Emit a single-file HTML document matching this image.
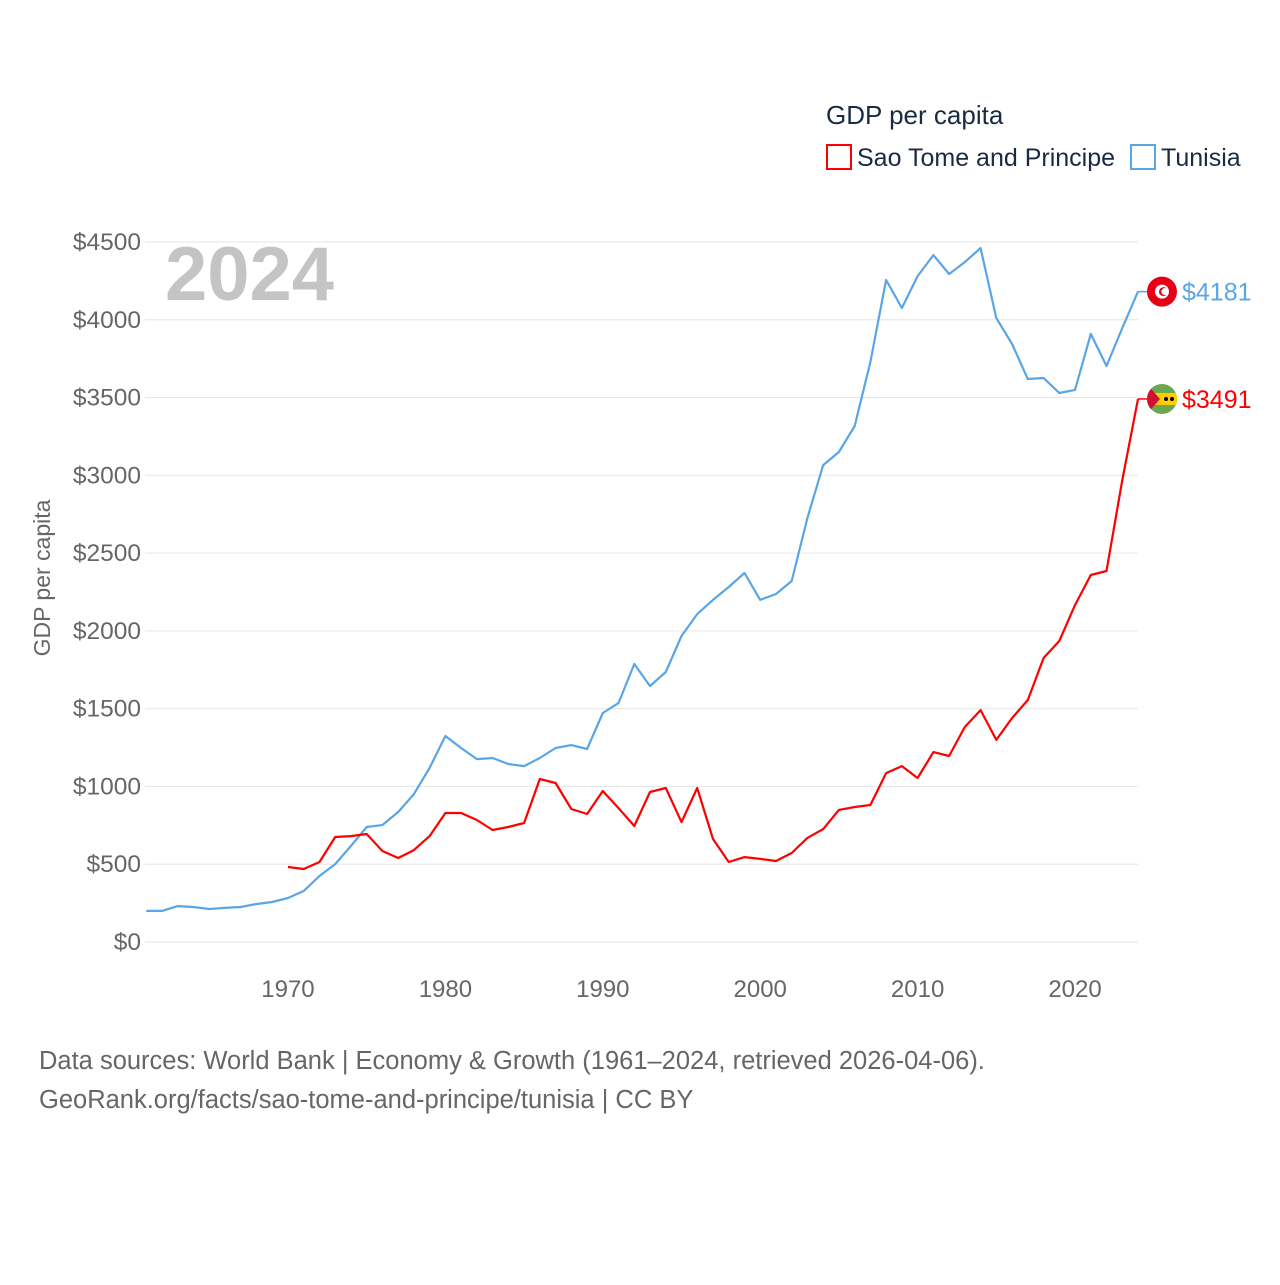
<!DOCTYPE html>
<html><head><meta charset="utf-8">
<style>
body{margin:0;background:#fff;font-family:"Liberation Sans",sans-serif;}
svg text{font-family:"Liberation Sans",sans-serif;}
</style></head>
<body>
<svg id="chart" width="1280" height="1280" viewBox="0 0 1280 1280" xmlns="http://www.w3.org/2000/svg">
<rect width="1280" height="1280" fill="#fff"/>
<g id="grid"></g>
<g id="yticks"></g>
<g id="xticks"></g>
<text x="165" y="300" font-size="76" font-weight="bold" fill="#c4c4c4">2024</text>
<text transform="translate(50,578) rotate(-90)" text-anchor="middle" font-size="23" fill="#666">GDP per capita</text>
<g id="series"></g>
<g>
<text x="826" y="124" font-size="26" fill="#1a2a44">GDP per capita</text>
<rect x="827" y="145" width="24" height="24" fill="none" stroke="#ff0000" stroke-width="2"/>
<text x="857" y="166" font-size="25" fill="#1a2a44">Sao Tome and Principe</text>
<rect x="1131" y="145" width="24" height="24" fill="none" stroke="#5aa5e6" stroke-width="2"/>
<text x="1161" y="166" font-size="25" fill="#1a2a44">Tunisia</text>
</g>
<text x="39" y="1069" font-size="25.5" fill="#666">Data sources: World Bank | Economy &amp; Growth (1961–2024, retrieved 2026-04-06).</text>
<text x="39" y="1108" font-size="25.5" fill="#666">GeoRank.org/facts/sao-tome-and-principe/tunisia | CC BY</text>
</svg>
<script>
const tunYears=[1961,1962,1963,1964,1965,1966,1967,1968,1969,1970,1971,1972,1973,1974,1975,1976,1977,1978,1979,1980,1981,1982,1983,1984,1985,1986,1987,1988,1989,1990,1991,1992,1993,1994,1995,1996,1997,1998,1999,2000,2001,2002,2003,2004,2005,2006,2007,2008,2009,2010,2011,2012,2013,2014,2015,2016,2017,2018,2019,2020,2021,2022,2023,2024];
const tunValues=[200,200,231,225,212,219,225,244,257,283,328,424,501,617,739,752,836,951,1119,1324,1247,1176,1183,1144,1131,1183,1247,1266,1241,1472,1536,1787,1646,1736,1967,2108,2199,2282,2372,2199,2237,2321,2726,3066,3150,3317,3729,4256,4076,4281,4416,4294,4371,4461,4011,3844,3619,3626,3529,3549,3909,3703,3947,4181];
const stpYears=[1970,1971,1972,1973,1974,1975,1976,1977,1978,1979,1980,1981,1982,1983,1984,1985,1986,1987,1988,1989,1990,1991,1992,1993,1994,1995,1996,1997,1998,1999,2000,2001,2002,2003,2004,2005,2006,2007,2008,2009,2010,2011,2012,2013,2014,2015,2016,2017,2018,2019,2020,2021,2022,2023,2024];
const stpValues=[482,469,514,675,681,694,585,540,591,681,829,829,784,720,739,765,1048,1022,855,823,971,861,746,964,990,771,990,662,514,546,534,521,572,669,726,849,868,881,1086,1131,1054,1221,1196,1382,1491,1299,1440,1556,1826,1935,2166,2359,2385,2970,3491];
const yTicks=[0,500,1000,1500,2000,2500,3000,3500,4000,4500];
const xTicks=[1970,1980,1990,2000,2010,2020];

const NS="http://www.w3.org/2000/svg";
const X0=146.3,X1=1138,Y0=942,Y1=242;
const x=yr=>X0+(yr-1961)*(X1-X0)/(2024-1961);
const y=v=>Y0-v*(Y0-Y1)/4500;
function mk(tag,attrs,parent){const e=document.createElementNS(NS,tag);for(const k in attrs)e.setAttribute(k,attrs[k]);parent.appendChild(e);return e;}
const grid=document.getElementById('grid'),yt=document.getElementById('yticks'),xt=document.getElementById('xticks'),ser=document.getElementById('series');
yTicks.forEach(v=>{
  const l=mk('line',{x1:145,x2:1138,y1:y(v),y2:y(v),stroke:'#e6e6e6','stroke-width':1},grid);
  
  
  const t=mk('text',{x:141,y:y(v)+8,'text-anchor':'end','font-size':24.5,fill:'#666'},yt);
  
  
  t.textContent='$'+v;
});
xTicks.forEach(yr=>{
  const t=mk('text',{x:x(yr),y:997,'text-anchor':'middle','font-size':24,fill:'#666'},xt);
  
  
  t.textContent=yr;
});
function line(years,vals,color,name){
  const d=years.map((yr,i)=>(i?'L':'M')+x(yr).toFixed(1)+','+y(vals[i]).toFixed(1)).join('');
  const p=mk('path',{d:d,fill:'none',stroke:color,'stroke-width':2.2,'stroke-linejoin':'round'},ser);
  
  
  const last=vals[vals.length-1],ly=y(last),lx=x(years[years.length-1]);
  const c=mk('line',{x1:lx,x2:1150,y1:ly,y2:ly,stroke:color,'stroke-width':1.5},ser);
  
  
  const t=mk('text',{x:1182,y:ly+9,'font-size':25,fill:color},ser);
  
  
  t.textContent='$'+last;
  return ly;
}
const ty=line(tunYears,tunValues,'#5aa5e6','tunisia-line');
const sy=line(stpYears,stpValues,'#ff0000','stp-line');
const f1=mk('g',{},ser);


mk('circle',{cx:1162,cy:ty,r:15,fill:'#e70013'},f1);
mk('circle',{cx:1162,cy:ty,r:7,fill:'#fff'},f1);
mk('circle',{cx:1163.5,cy:ty,r:4.5,fill:'#e70013'},f1);
mk('circle',{cx:1165,cy:ty,r:3.6,fill:'#fff'},f1);
const f2=mk('g',{},ser);


const cp=mk('clipPath',{id:'stpclip'},f2);
mk('circle',{cx:1162,cy:sy,r:15},cp);
const g2=mk('g',{'clip-path':'url(#stpclip)'},f2);
mk('rect',{x:1147,y:sy-15,width:30,height:30,fill:'#6aa84f'},g2);
mk('rect',{x:1147,y:sy-6,width:30,height:12,fill:'#ffce00'},g2);
mk('polygon',{points:`1147,${sy-15} 1160,${sy} 1147,${sy+15}`,fill:'#d21034'},g2);
mk('circle',{cx:1166,cy:sy,r:2,fill:'#000'},g2);
mk('circle',{cx:1172,cy:sy,r:2,fill:'#000'},g2);
</script>
</body></html>
